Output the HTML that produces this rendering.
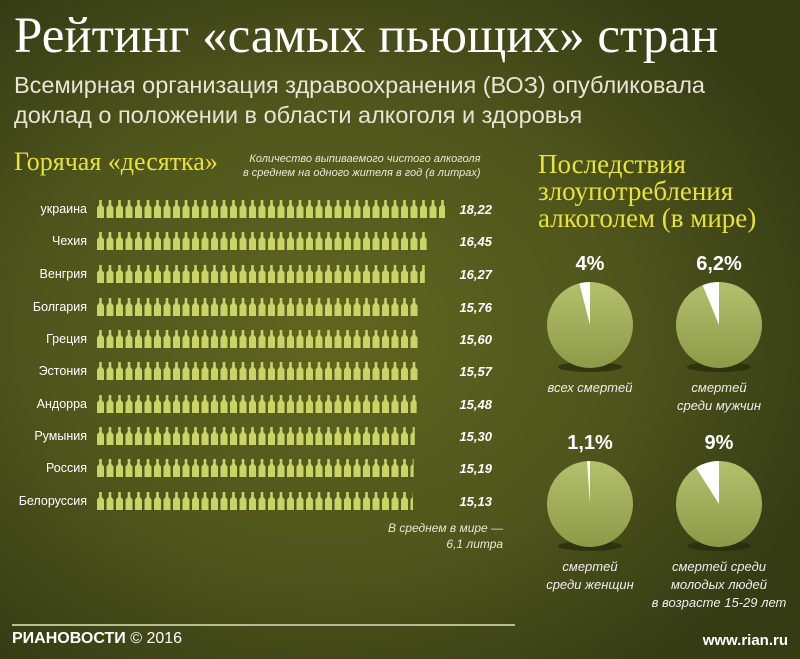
<!DOCTYPE html><html><head><meta charset="utf-8"><style>
body{margin:0;width:800px;height:659px;overflow:hidden;font-family:"Liberation Sans",sans-serif;}
#bg{position:absolute;left:0;top:0;width:800px;height:659px;background:radial-gradient(ellipse 520px 420px at 330px 330px,#60651f 0%,#4f561c 55%,#353c14 100%);}
.t{position:absolute;white-space:nowrap;}
</style></head><body><div id="bg"></div>
<div class="t" style="left:14px;top:7px;font-family:'Liberation Serif',serif;font-size:51px;color:#fff;">Рейтинг «самых пьющих» стран</div>
<div class="t" style="left:14px;top:70px;font-size:23.5px;color:#e6e6d6;line-height:30px;">Всемирная организация здравоохранения (ВОЗ) опубликовала<br>доклад о положении в области алкоголя и здоровья</div>
<div class="t" style="left:14px;top:147px;font-family:'Liberation Serif',serif;font-size:26px;color:#e8e23a;">Горячая «десятка»</div>
<div class="t" style="left:243px;top:152px;font-size:11px;font-style:italic;color:#e8e8d8;line-height:14px;text-align:right;">Количество выпиваемого чистого алкоголя<br>в среднем на одного жителя в год (в литрах)</div>
<div class="t" style="left:538px;top:151px;font-family:'Liberation Serif',serif;font-size:27px;color:#e8e23a;line-height:27px;">Последствия<br>злоупотребления<br>алкоголем (в мире)</div>
<svg id="s" style="position:absolute;left:0;top:0" width="800" height="659"></svg>
<div class="t" style="left:388px;top:520px;font-size:12px;font-style:italic;color:#e8e8d8;line-height:16px;text-align:right;">В среднем в мире —<br>6,1 литра</div>
<div style="position:absolute;left:12px;top:624px;width:503px;height:2px;background:#b8bc90;"></div>
<div class="t" style="left:12px;top:630px;font-size:16px;font-weight:bold;color:#fff;">РИАНОВОСТИ <span style="font-weight:normal;font-size:16px">© 2016</span></div>
<div class="t" style="right:12px;top:632px;font-size:15px;font-weight:bold;color:#fff;">www.rian.ru</div>
<script>
var s=document.getElementById('s'),h='';
var d=[['украина',18.22,209],['Чехия',16.45,241],['Венгрия',16.27,274],['Болгария',15.76,307],['Греция',15.60,339],['Эстония',15.57,371],['Андорра',15.48,404],['Румыния',15.30,436],['Россия',15.19,468],['Белоруссия',15.13,501]];
var sp=9.5;
d.forEach(function(r){var end=413+(r[1]-15.13)*10.36,y=r[2];
h+='<text x="87" y="'+(y+4)+'" text-anchor="end" font-size="12.5" fill="#fff">'+r[0]+'</text>';
h+='<text x="492" y="'+(y+5)+'" text-anchor="end" font-size="13" font-weight="bold" font-style="italic" fill="#fff">'+r[1].toFixed(2).replace('.',',')+'</text>';
h+='<clipPath id="c'+y+'"><rect x="96" y="'+(y-12)+'" width="'+(end-96)+'" height="24"/></clipPath><g clip-path="url(#c'+y+')" fill="#c8d466">';
for(var i=0;i<40;i++){var x=97+i*sp;h+='<path d="M'+(x+2.2)+' '+(y-9)+'h2.6v5l2.2 2.5v10.5h-7v-10.5l2.2-2.5z"/>';}
h+='</g>';});
var p=[[590,325,4,'4%',['всех смертей']],[719,325,6.2,'6,2%',['смертей','среди мужчин']],[590,504,1.1,'1,1%',['смертей','среди женщин']],[719,504,9,'9%',['смертей среди','молодых людей','в возрасте 15-29 лет']]];
h+='<defs><linearGradient id="g" x1="0" y1="0" x2="0" y2="1"><stop offset="0" stop-color="#b3c06c"/><stop offset="1" stop-color="#8d9a48"/></linearGradient></defs>';
p.forEach(function(q){var cx=q[0],cy=q[1],r=43,a=q[2]/100*2*Math.PI;
h+='<ellipse cx="'+cx+'" cy="'+(cy+42)+'" rx="32" ry="5" fill="#252a0c" opacity="0.7"/>';
h+='<circle cx="'+cx+'" cy="'+cy+'" r="'+r+'" fill="url(#g)"/>';
h+='<path d="M'+cx+' '+cy+'L'+cx+' '+(cy-r)+'A'+r+' '+r+' 0 0 0 '+(cx-r*Math.sin(a))+' '+(cy-r*Math.cos(a))+'Z" fill="#fff"/>';
h+='<text x="'+cx+'" y="'+(cy-55)+'" text-anchor="middle" font-size="20" font-weight="bold" fill="#fff">'+q[3]+'</text>';
q[4].forEach(function(l,k){h+='<text x="'+cx+'" y="'+(cy+67+k*18)+'" text-anchor="middle" font-size="13" font-style="italic" fill="#eee">'+l+'</text>';});});
s.innerHTML=h;
</script></body></html>
